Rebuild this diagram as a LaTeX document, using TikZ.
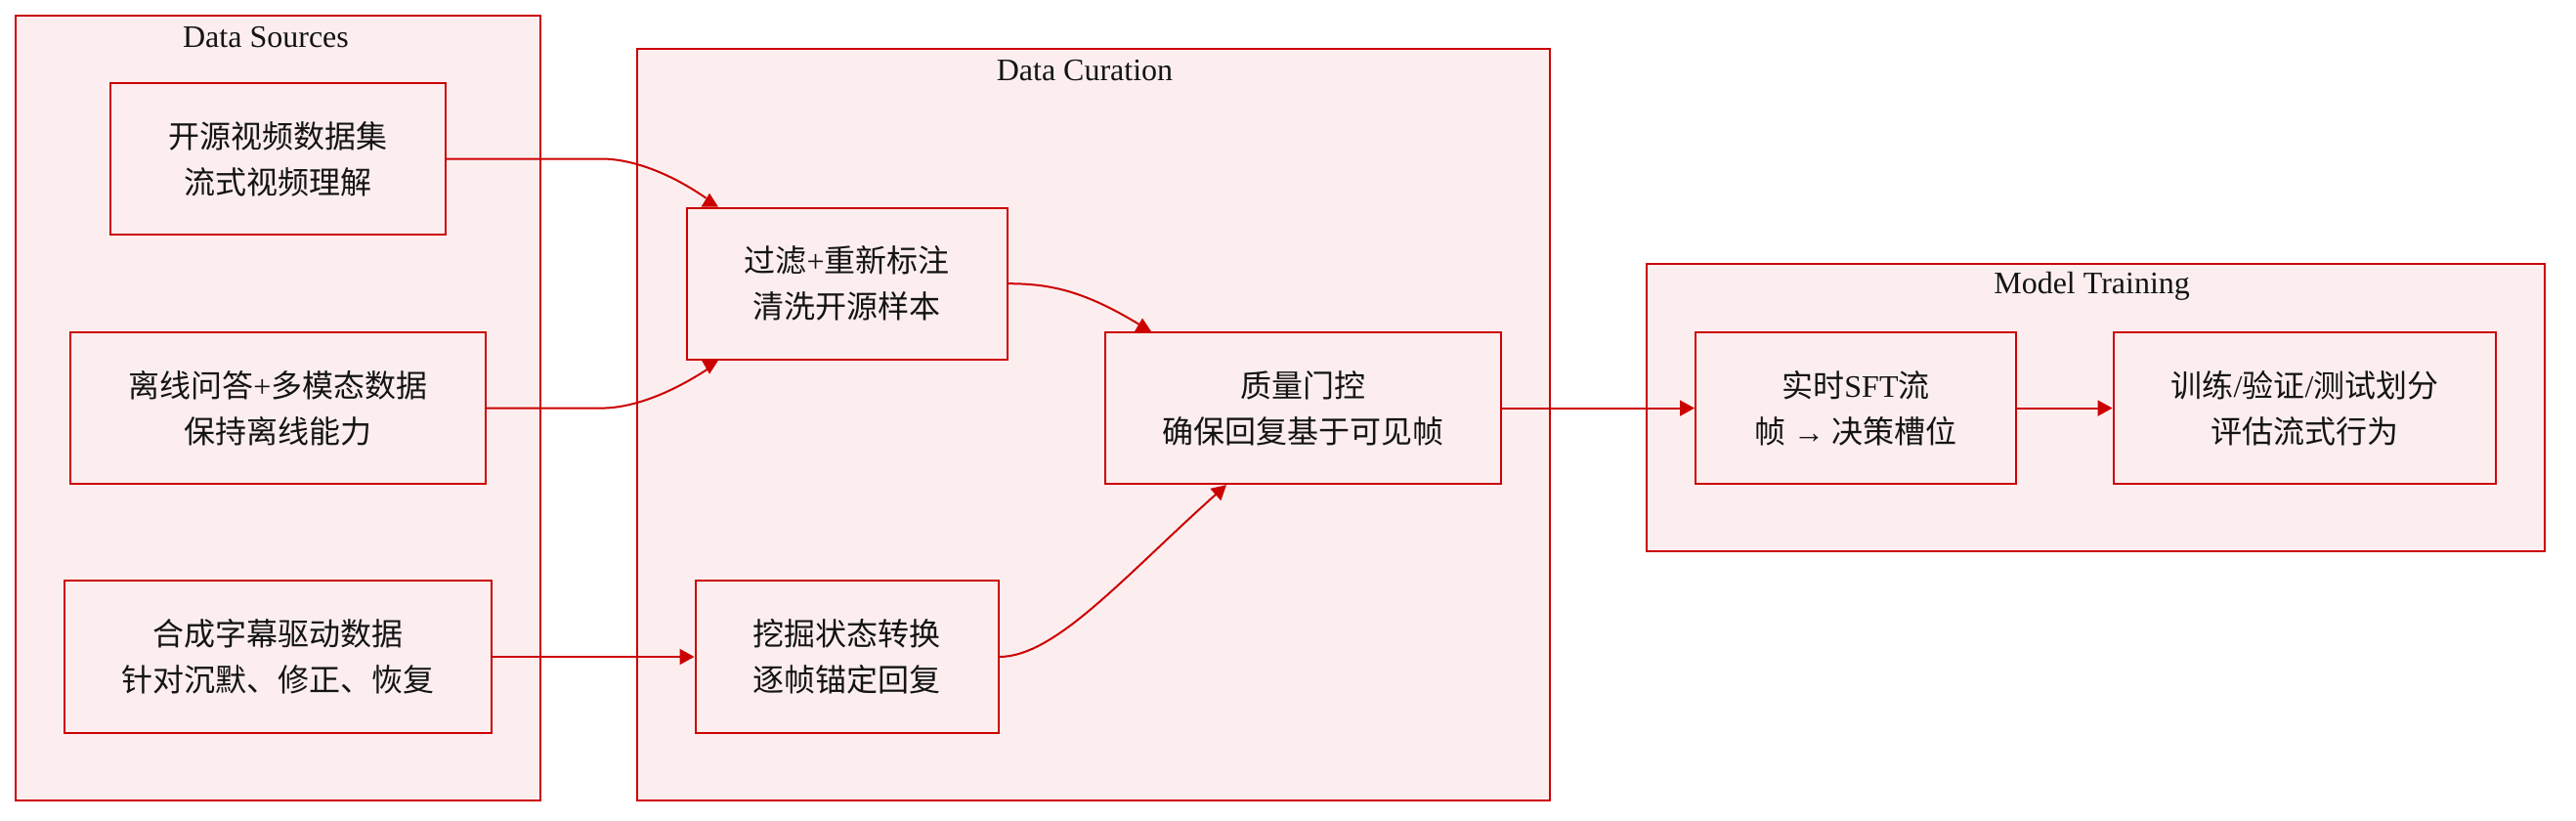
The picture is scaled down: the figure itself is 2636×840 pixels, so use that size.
\documentclass[tikz,border=0pt]{standalone}
\usepackage{fontspec}
\setmainfont{Liberation Serif}
\newfontfamily\cjk{Noto Sans CJK SC}
\usetikzlibrary{arrows.meta,calc}
\definecolor{boxred}{RGB}{204,0,0}
\definecolor{boxfill}{RGB}{252,238,239}
\definecolor{txt}{RGB}{20,20,20}
\tikzset{
  cluster/.style={draw=boxred,fill=boxfill,line width=2pt,inner sep=0pt},
  cbox/.style={draw=boxred,fill=boxfill,line width=2pt,inner sep=0pt,align=center,text=txt,
    font=\cjk\fontsize{32}{47}\selectfont},
  ctitle/.style={inner sep=0pt,text=txt,font=\rmfamily\fontsize{32}{38}\selectfont},
  edge/.style={draw=boxred,line width=2pt,-{Triangle[length=15pt,width=16pt]}},
  bare/.style={draw=boxred,line width=2pt},
  revtip/.style={fill=boxred},
}
\newcommand{\lat}[1]{{\rmfamily #1}}
\begin{document}
\begin{tikzpicture}[x=1pt,y=-1pt]
\useasboundingbox (0,0) rectangle (2636,840);
% clusters
\node[cluster,minimum width=537pt,minimum height=803pt] (ds) at (284.2,417.4) {};
\node[cluster,minimum width=934pt,minimum height=769pt] (dc) at (1119,434.5) {};
\node[cluster,minimum width=919.4pt,minimum height=294.3pt] (mt) at (2144.3,417.2) {};
\node[ctitle] (dst) at (272,37.7) {Data Sources};
\node[ctitle] (dct) at (1110,72) {Data Curation};
\node[ctitle] (mtt) at (2140.6,292.7) {Model Training};
% nodes
\node[cbox,minimum width=343pt,minimum height=155pt] (A) at (284.5,162.5) {开源视频数据集\\流式视频理解};
\node[cbox,minimum width=425pt,minimum height=155pt] (B) at (284.5,417.6) {离线问答\lat{+}多模态数据\\保持离线能力};
\node[cbox,minimum width=437.4pt,minimum height=156pt] (C) at (284.3,672) {合成字幕驱动数据\\针对沉默、修正、恢复};
\node[cbox,minimum width=328.2pt,minimum height=155pt] (D) at (866.6,290.2) {过滤\lat{+}重新标注\\清洗开源样本};
\node[cbox,minimum width=405pt,minimum height=155pt] (E) at (1333.5,417.6) {质量门控\\确保回复基于可见帧};
\node[cbox,minimum width=310pt,minimum height=156pt] (F) at (866.5,672) {挖掘状态转换\\逐帧锚定回复};
\node[cbox,minimum width=328pt,minimum height=155.7pt] (G) at (1899,417.6) {实时\lat{SFT}流\\帧 \lat{→} 决策槽位};
\node[cbox,minimum width=391.8pt,minimum height=155.7pt] (H) at (2358.5,417.6) {训练\lat{/}验证\lat{/}测试划分\\评估流式行为};
% edges
\draw[bare] (A.east) -- (615,162.5) .. controls (650,162.5) and (690,180) .. ($(D.north west)+(21,-9)$);
\fill[revtip] ($(D.north west)+(16,0)$) -- ($(D.north west)+(24.5,-14)$) -- ($(D.north west)+(33.5,0)$) -- cycle;
\draw[bare] (B.east) -- (615,417.6) .. controls (650,417.6) and (690,400) .. ($(D.south west)+(22.5,9)$);
\fill[revtip] ($(D.south west)+(16.5,0)$) -- ($(D.south west)+(24.5,14)$) -- ($(D.south west)+(33.5,0)$) -- cycle;
\draw[edge] (C.east) -- (F.west);
\draw[bare] (D.east) .. controls (1075,290.2) and (1110,298) .. ($(E.north west)+(36,-7)$);
\fill[revtip] ($(E.north west)+(31,0)$) -- ($(E.north west)+(39,-13.5)$) -- ($(E.north west)+(48,0)$) -- cycle;
\draw[edge] (F.east) .. controls (1080,672) and (1150,590) .. ($(E.south west)+(125,0)$);
\draw[edge] (E.east) -- (G.west);
\draw[edge] (G.east) -- (H.west);
\end{tikzpicture}
\end{document}
